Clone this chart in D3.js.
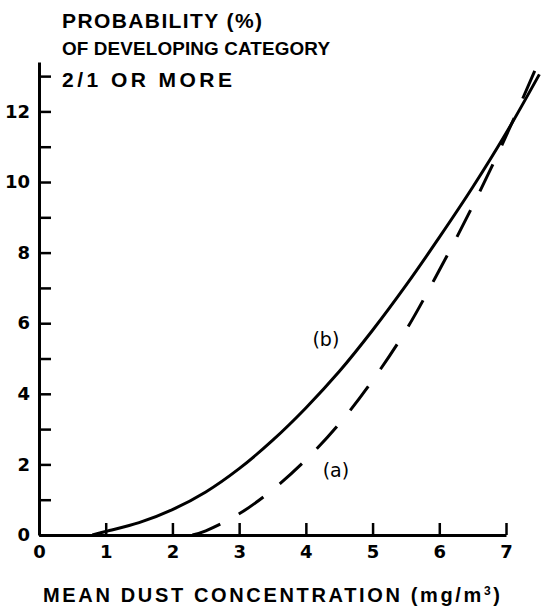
<!DOCTYPE html>
<html>
<head>
<meta charset="utf-8">
<script src="https://cdn.jsdelivr.net/npm/d3@7"></script>
<style>
  html, body { margin: 0; padding: 0; background: #fff; }
  svg { display: block; }
  text { font-family: "DejaVu Sans", sans-serif; font-weight: bold; fill: #000; }
  .ttl { font-family: "Liberation Sans", Arial, sans-serif; }
</style>
</head>
<body>
<svg id="chart" width="544" height="613"></svg>
<script>
// ---- data ----
const concentrationB = [0.8, 1.0, 1.5, 2.0, 2.5, 3.0, 3.5, 4.0, 4.5, 5.0, 5.5, 6.0, 6.5, 7.0, 7.5];
const probabilityB   = [0.0, 0.1, 0.35, 0.72, 1.22, 1.88, 2.68, 3.6, 4.63, 5.8, 7.07, 8.43, 9.85, 11.38, 13.05];
const concentrationA = [2.3, 2.5, 3.0, 3.5, 4.0, 4.5, 5.0, 5.5, 6.0, 6.5, 7.0, 7.5];
const probabilityA   = [0.0, 0.12, 0.6, 1.28, 2.13, 3.15, 4.38, 5.8, 7.5, 9.32, 11.3, 13.45];
const xTicks = [0, 1, 2, 3, 4, 5, 6, 7];
const yTicks = [0, 1, 2, 3, 4, 5, 6, 7, 8, 9, 10, 11, 12, 13];
const yLabelTicks = [0, 2, 4, 6, 8, 10, 12];
const titleLines = ["PROBABILITY (%)", "OF DEVELOPING CATEGORY", "2/1 OR MORE"];
const xTitle = "MEAN DUST CONCENTRATION ";
const curveLabels = [{text: "(b)", x: 4.3, y: 5.5}, {text: "(a)", x: 4.45, y: 1.8}];

const svg = d3.select("#chart");
const x = d3.scaleLinear().domain([0, 7]).range([39, 506]);
const y = d3.scaleLinear().domain([0, 13.4]).range([535, 62]);

// y axis
const yAxis = d3.axisLeft(y).tickValues(yTicks).tickSizeInner(-12).tickSizeOuter(0).tickPadding(9)
  .tickFormat(d => yLabelTicks.includes(d) ? d : "");
const gy = svg.append("g").attr("transform", `translate(${x(0)},0)`).call(yAxis);
gy.select(".domain").attr("stroke", "#000").attr("stroke-width", 3);
gy.selectAll(".tick line").attr("stroke", "#000").attr("stroke-width", 2.5);
gy.selectAll(".tick text").style("font-size", "18px").attr("font-family", null);

// x axis
const xAxis = d3.axisBottom(x).tickValues(xTicks).tickFormat(d3.format("d"))
  .tickSizeInner(-12).tickSizeOuter(0).tickPadding(10);
const gx = svg.append("g").attr("transform", `translate(0,${y(0)})`).call(xAxis);
gx.select(".domain").attr("stroke", "#000").attr("stroke-width", 3);
gx.selectAll(".tick line").attr("stroke", "#000").attr("stroke-width", 2.5);
gx.selectAll(".tick text").style("font-size", "18px").attr("font-family", null);

// curves
const line = d3.line().x(d => x(d[0])).y(d => y(d[1])).curve(d3.curveCatmullRom.alpha(0.5));
svg.append("path").datum(d3.zip(concentrationB, probabilityB))
  .attr("d", line).attr("fill", "none").attr("stroke", "#000").attr("stroke-width", 3);
svg.append("path").datum(d3.zip(concentrationA, probabilityA))
  .attr("d", line).attr("fill", "none").attr("stroke", "#000").attr("stroke-width", 3)
  .attr("stroke-dasharray", "30,21");

// curve labels
svg.selectAll(".clabel").data(curveLabels).enter().append("text")
  .attr("class", "clabel")
  .attr("x", d => x(d.x)).attr("y", d => y(d.y))
  .attr("text-anchor", "middle").attr("dominant-baseline", "middle")
  .style("font-size", "19px").style("font-weight", "normal")
  .text(d => d.text);

// title (font shrinks only if the natural width exceeds the target width)
const titleWidths = [200, 268, 170];
const titleBaselines = [28, 55, 87];
titleLines.forEach((t, i) => {
  const el = svg.append("text").attr("class", "ttl").attr("x", 62).attr("y", titleBaselines[i])
    .style("font-size", "21px").text(t);
  const natural = el.node().getComputedTextLength();
  if (natural > titleWidths[i]) {
    el.style("font-size", (21 * titleWidths[i] / natural * 0.99) + "px");
  }
  el.attr("textLength", titleWidths[i]).attr("lengthAdjust", "spacing");
});

// x title
const xt = svg.append("text").attr("class", "ttl").attr("x", 43).attr("y", 602)
  .attr("textLength", 457).attr("lengthAdjust", "spacing")
  .style("font-size", "20px");
xt.append("tspan").text(xTitle + "(mg/m");
xt.append("tspan").attr("dy", -7).style("font-size", "12px").text("3");
xt.append("tspan").attr("dy", 7).text(")");
</script>
</body>
</html>
